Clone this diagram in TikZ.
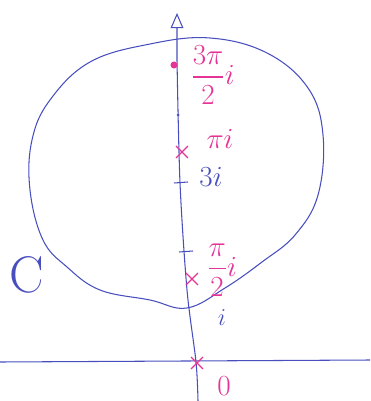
\documentclass[tikz,border=0pt]{standalone}
\usepackage{amsmath}
\usetikzlibrary{arrows.meta,positioning,shapes.misc}
\definecolor{inkblue}{RGB}{72,78,190}
\definecolor{inkpink}{RGB}{228,52,150}

\begin{document}
\begin{tikzpicture}[x=0.03cm,y=-0.03cm,
    axis/.style={draw=inkblue,line width=0.9pt},
    contour/.style={draw=inkblue,line width=0.9pt},
    tick/.style={draw=inkblue,line width=0.9pt},
    xmark/.style={cross out,draw=inkpink,line width=1.1pt,minimum size=9pt,inner sep=0pt},
    pdot/.style={circle,fill=inkpink,minimum size=6pt,inner sep=0pt},
    plab/.style={text=inkpink,font=\fontsize{29}{31}\selectfont,inner sep=1pt},
    blab/.style={text=inkblue,font=\fontsize{29}{31}\selectfont,inner sep=1pt},
    flab/.style={plab,font=\fontsize{25}{27}\selectfont}
  ]
  \useasboundingbox (0,0) rectangle (370,401);
  % axes
  \coordinate (xl) at (0,362);
  \coordinate (xr) at (370,360);
  \coordinate (yb) at (198,401);
  \coordinate (yt) at (177,13);
  \draw[axis] (xl) -- (xr);
  \draw[axis,-{Triangle[open,length=13pt,width=11pt]}]
    plot[smooth] coordinates {(yb) (196,362) (187,290) (180,183) (177,60)} -- (yt);
  % contour C
  \draw[contour] plot[smooth cycle,tension=0.65] coordinates {(210,38) (267,53) (308,88)
    (323,135) (318,195) (295,235) (262,262) (225,288) (187,308) (150,300) (100,290)
    (67,267) (43,240) (30,190) (32,140) (50,100) (90,62) (150,44)};
  % ticks
  \fill[inkblue] (178,115) circle (1.5);
  \draw[tick] (174,183) -- (188,182);
  \draw[tick] (179,252) -- (193,251);
  % poles
  \node[pdot] (p32) at (174,65) {};
  \node[xmark] (ppi) at (182,152) {};
  \node[xmark] (ppi2) at (192,279) {};
  \node[xmark] (p0) at (197,363) {};
  % labels
  \node[flab] (l32) at (213,75) {$\dfrac{3\pi}{2}i$};
  \node[plab] (lpi) at (220,139) {$\pi i$};
  \node[blab] (l3i) at (211,177) {$3i$};
  \node[flab] (lpi2) at (222,270) {$\dfrac{\pi}{2}i$};
  \node[blab,font=\fontsize{22}{24}\selectfont] (li) at (222,318) {$i$};
  \node[plab] (l0) at (224,386) {$0$};
  \node[blab,font=\fontsize{44}{44}\selectfont] (lc) at (27,275) {C};
\end{tikzpicture}
\end{document}
